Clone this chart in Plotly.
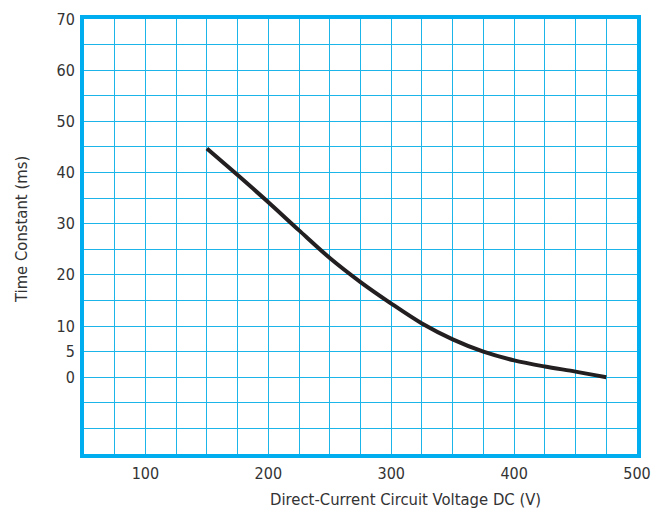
import plotly.graph_objects as go

# Time constant vs DC voltage
voltage = [150, 175, 200, 225, 250, 275, 300, 325, 350, 375, 400, 425, 450, 475]
time_constant = [44.7, 39.5, 34.2, 28.7, 23.3, 18.6, 14.4, 10.5, 7.4, 5.0, 3.3, 2.1, 1.1, 0.0]

x_ticks = [100, 200, 300, 400, 500]
y_ticks = [0, 5, 10, 20, 30, 40, 50, 60, 70]

grid_col = '#1cb5ea'
frame_col = '#00aeef'
font = 'DejaVu Sans Condensed, Liberation Sans, sans-serif'
text_col = '#333333'

fig = go.Figure()
fig.add_trace(go.Scatter(
  x=voltage,
  y=time_constant,
  mode='lines',
  line=dict(color='#231f20', width=4, shape='spline', smoothing=0.9),
  showlegend=False,
  hoverinfo='skip'
))

fig.update_xaxes(
  range=[50, 500],
  tickvals=x_ticks,
  ticks='',
  automargin=False,
  showgrid=True, gridcolor=grid_col, gridwidth=1,
  minor=dict(tick0=50, dtick=25, showgrid=True, gridcolor=grid_col, gridwidth=1),
  showline=True, linecolor=frame_col, linewidth=4, mirror=True,
  zeroline=False,
  tickfont=dict(size=16, color=text_col, family=font),
  ticklabelstandoff=2
)
fig.update_yaxes(
  range=[-15, 70],
  tickvals=y_ticks,
  ticks='',
  automargin=False,
  showgrid=True, gridcolor=grid_col, gridwidth=1,
  minor=dict(tick0=-15, dtick=5, showgrid=True, gridcolor=grid_col, gridwidth=1),
  showline=True, linecolor=frame_col, linewidth=4, mirror=True,
  zeroline=False,
  tickfont=dict(size=16, color=text_col, family=font),
  ticklabelstandoff=2
)

# axis titles placed as annotations to follow the reference positions
fig.add_annotation(
  text='Direct-Current Circuit Voltage DC (V)',
  xref='paper', yref='paper', x=0.582, y=-0.104, yanchor='middle', xanchor='center',
  showarrow=False,
  font=dict(size=16.5, color=text_col, family=font)
)
fig.add_annotation(
  text='Time Constant (ms)',
  xref='paper', yref='paper', x=-0.112, y=0.515, yanchor='middle', xanchor='center',
  textangle=-90,
  showarrow=False,
  font=dict(size=16.5, color=text_col, family=font)
)

fig.update_layout(
  width=660, height=508,
  margin=dict(l=84, r=23, t=19, b=54),
  plot_bgcolor='white', paper_bgcolor='white'
)

# drop the default page margin so the figure sits at the window corner
fig.write_html('out.html', config={'displayModeBar': False},
               post_script="document.body.style.margin='0';")
